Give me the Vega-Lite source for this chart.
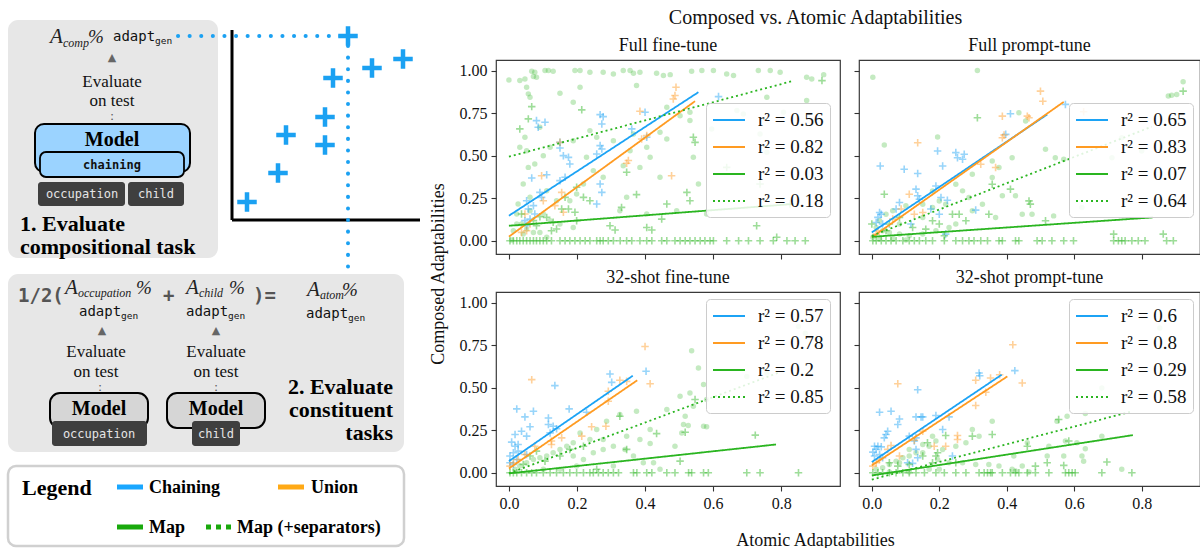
{
"$schema":"https://vega.github.io/schema/vega-lite/v6.json",
"padding":{"top":8,"left":0,"right":0,"bottom":0},
"background":"white",
"config":{
 "view":{"stroke":"#3a3a3a","strokeWidth":1.2},
 "font":"Liberation Serif",
 "axis":{"domain":false,"grid":false,"tickSize":5,"tickColor":"#333","tickWidth":1.1,"labelFont":"Liberation Serif","labelFontSize":16,"labelColor":"#111","labelPadding":4},
 "title":{"font":"Liberation Serif","fontWeight":"normal","color":"#111","fontSize":18,"offset":5},
 "legend":{"orient":"none","title":null,"symbolType":"M-1.6,0L1.6,0","symbolSize":400,"symbolOffset":6,"symbolStrokeWidth":2,"labelFont":"Liberation Serif","labelFontSize":19,"labelColor":"#111","labelOffset":18,"padding":6,"rowPadding":6,"fillColor":"rgba(255,255,255,0.85)","strokeColor":"#cccccc","cornerRadius":4}
},
"spacing":8,
"resolve":{"scale":{"x":"independent","y":"independent","color":"independent","strokeDash":"independent"}},
"hconcat":[
{
 "width":420,"height":488,"view":{"stroke":null},
 "layer":[
  {"data":{"name":"dr"},"transform":[{"filter":"datum.k=='panel'"}],"mark":{"type":"rect","fill":"#e7e7e7","cornerRadius":10},
   "encoding":{"x":{"field":"x","type":"quantitative","scale":{"domain":[0,420],"nice":false,"zero":false},"axis":null},"x2":{"field":"x2"},"y":{"field":"y","type":"quantitative","scale":{"domain":[60,548],"nice":false,"zero":false,"reverse":true},"axis":null},"y2":{"field":"y2"}}},
  {"data":{"name":"dr"},"transform":[{"filter":"datum.k=='lbox'"}],"mark":{"type":"rect","fill":"white","stroke":"#d0d0d0","strokeWidth":2.5,"cornerRadius":8},
   "encoding":{"x":{"field":"x","type":"quantitative","axis":null},"x2":{"field":"x2"},"y":{"field":"y","type":"quantitative","axis":null},"y2":{"field":"y2"}}},
  {"data":{"name":"dr"},"transform":[{"filter":"datum.k=='bm'"}],"mark":{"type":"rect","fill":"#9bd3ff","stroke":"black","strokeWidth":2,"cornerRadius":9},
   "encoding":{"x":{"field":"x","type":"quantitative","axis":null},"x2":{"field":"x2"},"y":{"field":"y","type":"quantitative","axis":null},"y2":{"field":"y2"}}},
  {"data":{"name":"dr"},"transform":[{"filter":"datum.k=='bc'"}],"mark":{"type":"rect","fill":"#9bd3ff","stroke":"black","strokeWidth":1.8,"cornerRadius":6},
   "encoding":{"x":{"field":"x","type":"quantitative","axis":null},"x2":{"field":"x2"},"y":{"field":"y","type":"quantitative","axis":null},"y2":{"field":"y2"}}},
  {"data":{"name":"dr"},"transform":[{"filter":"datum.k=='gm'"}],"mark":{"type":"rect","fill":"#d6d6d6","stroke":"black","strokeWidth":2,"cornerRadius":10},
   "encoding":{"x":{"field":"x","type":"quantitative","axis":null},"x2":{"field":"x2"},"y":{"field":"y","type":"quantitative","axis":null},"y2":{"field":"y2"}}},
  {"data":{"name":"dr"},"transform":[{"filter":"datum.k=='tag'"}],"mark":{"type":"rect","fill":"#3f3f3f","cornerRadius":3},
   "encoding":{"x":{"field":"x","type":"quantitative","axis":null},"x2":{"field":"x2"},"y":{"field":"y","type":"quantitative","axis":null},"y2":{"field":"y2"}}},
  {"data":{"name":"dl"},"transform":[{"filter":"datum.k=='ax'"}],"mark":{"type":"rule","color":"black","strokeWidth":3},
   "encoding":{"x":{"field":"x","type":"quantitative","axis":null},"x2":{"field":"x2"},"y":{"field":"y","type":"quantitative","axis":null},"y2":{"field":"y2"}}},
  {"data":{"name":"dl"},"transform":[{"filter":"datum.k=='bd'"}],"mark":{"type":"rule","color":"#1ba1f2","strokeWidth":4,"strokeDash":[0.1,11.5],"strokeCap":"round"},
   "encoding":{"x":{"field":"x","type":"quantitative","axis":null},"x2":{"field":"x2"},"y":{"field":"y","type":"quantitative","axis":null},"y2":{"field":"y2"}}},
  {"data":{"name":"dl"},"transform":[{"filter":"datum.k=='lb'"}],"mark":{"type":"rule","color":"#1aa7ff","strokeWidth":5},
   "encoding":{"x":{"field":"x","type":"quantitative","axis":null},"x2":{"field":"x2"},"y":{"field":"y","type":"quantitative","axis":null},"y2":{"field":"y2"}}},
  {"data":{"name":"dl"},"transform":[{"filter":"datum.k=='lo'"}],"mark":{"type":"rule","color":"#ffa915","strokeWidth":5},
   "encoding":{"x":{"field":"x","type":"quantitative","axis":null},"x2":{"field":"x2"},"y":{"field":"y","type":"quantitative","axis":null},"y2":{"field":"y2"}}},
  {"data":{"name":"dl"},"transform":[{"filter":"datum.k=='lg'"}],"mark":{"type":"rule","color":"#19a90c","strokeWidth":5},
   "encoding":{"x":{"field":"x","type":"quantitative","axis":null},"x2":{"field":"x2"},"y":{"field":"y","type":"quantitative","axis":null},"y2":{"field":"y2"}}},
  {"data":{"name":"dl"},"transform":[{"filter":"datum.k=='ld'"}],"mark":{"type":"rule","color":"#19a90c","strokeWidth":5,"strokeDash":[5,5]},
   "encoding":{"x":{"field":"x","type":"quantitative","axis":null},"x2":{"field":"x2"},"y":{"field":"y","type":"quantitative","axis":null},"y2":{"field":"y2"}}},
  {"data":{"name":"dp"},"mark":{"type":"point","shape":"M-1,0L1,0M0,-1L0,1","filled":false,"size":380,"strokeWidth":4.5,"color":"#1ba1f2","opacity":1},
   "encoding":{"x":{"field":"x","type":"quantitative","axis":null},"y":{"field":"y","type":"quantitative","axis":null}}},
  {"data":{"name":"dt"},"transform":[{"filter":"datum.k=='ev'"}],"mark":{"type":"text","font":"Liberation Serif","fontSize":17,"align":"center","baseline":"middle","color":"#111"},
   "encoding":{"x":{"field":"x","type":"quantitative","axis":null},"y":{"field":"y","type":"quantitative","axis":null},"text":{"field":"t"}}},
  {"data":{"name":"dt"},"transform":[{"filter":"datum.k=='model'"}],"mark":{"type":"text","font":"Liberation Serif","fontSize":20,"fontWeight":"bold","align":"center","baseline":"middle","color":"#000"},
   "encoding":{"x":{"field":"x","type":"quantitative","axis":null},"y":{"field":"y","type":"quantitative","axis":null},"text":{"field":"t"}}},
  {"data":{"name":"dt"},"transform":[{"filter":"datum.k=='chain'"}],"mark":{"type":"text","font":"DejaVu Sans Mono","fontSize":12,"fontWeight":"bold","align":"center","baseline":"middle","color":"#111"},
   "encoding":{"x":{"field":"x","type":"quantitative","axis":null},"y":{"field":"y","type":"quantitative","axis":null},"text":{"field":"t"}}},
  {"data":{"name":"dt"},"transform":[{"filter":"datum.k=='tag'"}],"mark":{"type":"text","font":"DejaVu Sans Mono","fontSize":12,"align":"center","baseline":"middle","color":"#e6e6e6"},
   "encoding":{"x":{"field":"x","type":"quantitative","axis":null},"y":{"field":"y","type":"quantitative","axis":null},"text":{"field":"t"}}},
  {"data":{"name":"dt"},"transform":[{"filter":"datum.k=='hl'"}],"mark":{"type":"text","font":"Liberation Serif","fontSize":22,"fontWeight":"bold","align":"left","baseline":"middle","color":"#000"},
   "encoding":{"x":{"field":"x","type":"quantitative","axis":null},"y":{"field":"y","type":"quantitative","axis":null},"text":{"field":"t"}}},
  {"data":{"name":"dt"},"transform":[{"filter":"datum.k=='hr'"}],"mark":{"type":"text","font":"Liberation Serif","fontSize":22,"fontWeight":"bold","align":"right","baseline":"middle","color":"#000"},
   "encoding":{"x":{"field":"x","type":"quantitative","axis":null},"y":{"field":"y","type":"quantitative","axis":null},"text":{"field":"t"}}},
  {"data":{"name":"dt"},"transform":[{"filter":"datum.k=='leg'"}],"mark":{"type":"text","font":"Liberation Serif","fontSize":18,"fontWeight":"bold","align":"left","baseline":"middle","color":"#000"},
   "encoding":{"x":{"field":"x","type":"quantitative","axis":null},"y":{"field":"y","type":"quantitative","axis":null},"text":{"field":"t"}}},
  {"data":{"name":"dt"},"transform":[{"filter":"datum.k=='A'"}],"mark":{"type":"text","font":"Liberation Serif","fontSize":21,"fontStyle":"italic","align":"left","baseline":"middle","color":"#222"},
   "encoding":{"x":{"field":"x","type":"quantitative","axis":null},"y":{"field":"y","type":"quantitative","axis":null},"text":{"field":"t"}}},
  {"data":{"name":"dt"},"transform":[{"filter":"datum.k=='sub'"}],"mark":{"type":"text","font":"Liberation Serif","fontSize":12,"fontStyle":"italic","align":"left","baseline":"middle","color":"#222"},
   "encoding":{"x":{"field":"x","type":"quantitative","axis":null},"y":{"field":"y","type":"quantitative","axis":null},"text":{"field":"t"}}},
  {"data":{"name":"dt"},"transform":[{"filter":"datum.k=='pct'"}],"mark":{"type":"text","font":"Liberation Serif","fontSize":19,"fontStyle":"italic","align":"left","baseline":"middle","color":"#222"},
   "encoding":{"x":{"field":"x","type":"quantitative","axis":null},"y":{"field":"y","type":"quantitative","axis":null},"text":{"field":"t"}}},
  {"data":{"name":"dt"},"transform":[{"filter":"datum.k=='adapt'"}],"mark":{"type":"text","font":"DejaVu Sans Mono","fontSize":14,"align":"left","baseline":"middle","color":"#111"},
   "encoding":{"x":{"field":"x","type":"quantitative","axis":null},"y":{"field":"y","type":"quantitative","axis":null},"text":{"field":"t"}}},
  {"data":{"name":"dt"},"transform":[{"filter":"datum.k=='gen'"}],"mark":{"type":"text","font":"DejaVu Sans Mono","fontSize":9.5,"align":"left","baseline":"middle","color":"#111"},
   "encoding":{"x":{"field":"x","type":"quantitative","axis":null},"y":{"field":"y","type":"quantitative","axis":null},"text":{"field":"t"}}},
  {"data":{"name":"dt"},"transform":[{"filter":"datum.k=='gray'"}],"mark":{"type":"text","font":"DejaVu Sans Mono","fontSize":19,"fontWeight":"bold","align":"left","baseline":"middle","color":"#555"},
   "encoding":{"x":{"field":"x","type":"quantitative","axis":null},"y":{"field":"y","type":"quantitative","axis":null},"text":{"field":"t"}}},
  {"data":{"name":"dt"},"transform":[{"filter":"datum.k=='arrow'"}],"mark":{"type":"text","font":"DejaVu Sans","fontSize":11,"align":"center","baseline":"middle","color":"#666"},
   "encoding":{"x":{"field":"x","type":"quantitative","axis":null},"y":{"field":"y","type":"quantitative","axis":null},"text":{"field":"t"}}},
  {"data":{"name":"dt"},"transform":[{"filter":"datum.k=='dots'"}],"mark":{"type":"text","font":"Liberation Serif","fontSize":13,"align":"center","baseline":"middle","color":"#555"},
   "encoding":{"x":{"field":"x","type":"quantitative","axis":null},"y":{"field":"y","type":"quantitative","axis":null},"text":{"field":"t"}}}
 ]
},
{
 "title":{"text":"Composed vs. Atomic Adaptabilities","fontSize":20,"anchor":"middle","offset":8},
 "spacing":0,
 "resolve":{"scale":{"x":"independent","y":"independent","color":"independent","strokeDash":"independent"}},
 "vconcat":[{
  "title":{"text":"Atomic Adaptabilities","orient":"bottom","fontSize":18,"anchor":"middle","offset":20},
  "spacing":0,
  "resolve":{"scale":{"x":"independent","y":"independent","color":"independent","strokeDash":"independent"}},
  "vconcat":[{
   "title":{"text":"Composed Adaptabilities","orient":"left","fontSize":18,"anchor":"middle","offset":10},
   "spacing":7,
   "resolve":{"scale":{"x":"independent","y":"independent","color":"independent","strokeDash":"independent"}},
   "vconcat":[
    {"hconcat":[
     {"width":344,"height":194,"title":{"text":"Full fine-tune"},
      "layer":[
       {"data":{"name":"ff"},"transform":[{"filter":"datum.s=='d'"}],"mark":{"type":"point","shape":"circle","filled":true,"size":30,"opacity":0.28,"strokeWidth":0},
        "encoding":{"x":{"field":"x","type":"quantitative","scale":{"domain":[-0.038,0.973],"nice":false,"zero":false},"axis":{"values":[0,0.2,0.4,0.6,0.8],"format":".1f","labels":false,"title":null}},"y":{"field":"y","type":"quantitative","scale":{"domain":[-0.078,1.062],"nice":false,"zero":false},"axis":{"values":[0,0.25,0.5,0.75,1],"format":".2f","title":null}},"fill":{"field":"s","type":"nominal","scale":{"domain":["a","b","c","d"],"range":["#1ca3f5","#ff9b22","#2ab520","#2ab520"]},"legend":null}}},
       {"data":{"name":"ff"},"transform":[{"filter":"datum.s!='d'"}],"mark":{"type":"point","shape":"M-1,0L1,0M0,-1L0,1","filled":false,"size":56,"opacity":0.45,"strokeWidth":1.6},
        "encoding":{"x":{"field":"x","type":"quantitative"},"y":{"field":"y","type":"quantitative"},"stroke":{"field":"s","type":"nominal","scale":{"domain":["a","b","c","d"],"range":["#1ca3f5","#ff9b22","#2ab520","#2ab520"]},"legend":null}}},
       {"data":{"name":"ffl"},"mark":{"type":"line","strokeWidth":1.8},
        "encoding":{"x":{"field":"x","type":"quantitative"},"y":{"field":"y","type":"quantitative"},
         "color":{"field":"s","type":"nominal","scale":{"domain":["a","b","c","d"],"range":["#1ca3f5","#ff9b22","#2ab520","#2ab520"]},"legend":{"legendX":210,"legendY":43,"labelExpr":"datum.value=='a'?'r² = 0.56':datum.value=='b'?'r² = 0.82':datum.value=='c'?'r² = 0.03':'r² = 0.18'"}},
         "strokeDash":{"field":"s","type":"nominal","scale":{"domain":["a","b","c","d"],"range":[[1,0],[1,0],[1,0],[2,3]]},"legend":{"legendX":210,"legendY":43,"labelExpr":"datum.value=='a'?'r² = 0.56':datum.value=='b'?'r² = 0.82':datum.value=='c'?'r² = 0.03':'r² = 0.18'"}}}}
      ]},
     {"width":341,"height":194,"title":{"text":"Full prompt-tune"},
      "layer":[
       {"data":{"name":"fp"},"transform":[{"filter":"datum.s=='d'"}],"mark":{"type":"point","shape":"circle","filled":true,"size":30,"opacity":0.28,"strokeWidth":0},
        "encoding":{"x":{"field":"x","type":"quantitative","scale":{"domain":[-0.038,0.973],"nice":false,"zero":false},"axis":{"values":[0,0.2,0.4,0.6,0.8],"format":".1f","labels":false,"title":null}},"y":{"field":"y","type":"quantitative","scale":{"domain":[-0.078,1.062],"nice":false,"zero":false},"axis":{"values":[0,0.25,0.5,0.75,1],"format":".2f","labels":false,"title":null}},"fill":{"field":"s","type":"nominal","scale":{"domain":["a","b","c","d"],"range":["#1ca3f5","#ff9b22","#2ab520","#2ab520"]},"legend":null}}},
       {"data":{"name":"fp"},"transform":[{"filter":"datum.s!='d'"}],"mark":{"type":"point","shape":"M-1,0L1,0M0,-1L0,1","filled":false,"size":56,"opacity":0.45,"strokeWidth":1.6},
        "encoding":{"x":{"field":"x","type":"quantitative"},"y":{"field":"y","type":"quantitative"},"stroke":{"field":"s","type":"nominal","scale":{"domain":["a","b","c","d"],"range":["#1ca3f5","#ff9b22","#2ab520","#2ab520"]},"legend":null}}},
       {"data":{"name":"fpl"},"mark":{"type":"line","strokeWidth":1.8},
        "encoding":{"x":{"field":"x","type":"quantitative"},"y":{"field":"y","type":"quantitative"},
         "color":{"field":"s","type":"nominal","scale":{"domain":["a","b","c","d"],"range":["#1ca3f5","#ff9b22","#2ab520","#2ab520"]},"legend":{"legendX":210,"legendY":43,"labelExpr":"datum.value=='a'?'r² = 0.65':datum.value=='b'?'r² = 0.83':datum.value=='c'?'r² = 0.07':'r² = 0.64'"}},
         "strokeDash":{"field":"s","type":"nominal","scale":{"domain":["a","b","c","d"],"range":[[1,0],[1,0],[1,0],[2,3]]},"legend":{"legendX":210,"legendY":43,"labelExpr":"datum.value=='a'?'r² = 0.65':datum.value=='b'?'r² = 0.83':datum.value=='c'?'r² = 0.07':'r² = 0.64'"}}}}
      ]}
    ],"spacing":11,"resolve":{"scale":{"x":"independent","y":"independent","color":"independent","strokeDash":"independent"}}},
    {"hconcat":[
     {"width":344,"height":194,"title":{"text":"32-shot fine-tune"},
      "layer":[
       {"data":{"name":"sf"},"transform":[{"filter":"datum.s=='d'"}],"mark":{"type":"point","shape":"circle","filled":true,"size":30,"opacity":0.28,"strokeWidth":0},
        "encoding":{"x":{"field":"x","type":"quantitative","scale":{"domain":[-0.038,0.973],"nice":false,"zero":false},"axis":{"values":[0,0.2,0.4,0.6,0.8],"format":".1f","title":null}},"y":{"field":"y","type":"quantitative","scale":{"domain":[-0.078,1.062],"nice":false,"zero":false},"axis":{"values":[0,0.25,0.5,0.75,1],"format":".2f","title":null}},"fill":{"field":"s","type":"nominal","scale":{"domain":["a","b","c","d"],"range":["#1ca3f5","#ff9b22","#2ab520","#2ab520"]},"legend":null}}},
       {"data":{"name":"sf"},"transform":[{"filter":"datum.s!='d'"}],"mark":{"type":"point","shape":"M-1,0L1,0M0,-1L0,1","filled":false,"size":56,"opacity":0.45,"strokeWidth":1.6},
        "encoding":{"x":{"field":"x","type":"quantitative"},"y":{"field":"y","type":"quantitative"},"stroke":{"field":"s","type":"nominal","scale":{"domain":["a","b","c","d"],"range":["#1ca3f5","#ff9b22","#2ab520","#2ab520"]},"legend":null}}},
       {"data":{"name":"sfl"},"mark":{"type":"line","strokeWidth":1.8},
        "encoding":{"x":{"field":"x","type":"quantitative"},"y":{"field":"y","type":"quantitative"},
         "color":{"field":"s","type":"nominal","scale":{"domain":["a","b","c","d"],"range":["#1ca3f5","#ff9b22","#2ab520","#2ab520"]},"legend":{"legendX":210,"legendY":7,"labelExpr":"datum.value=='a'?'r² = 0.57':datum.value=='b'?'r² = 0.78':datum.value=='c'?'r² = 0.2':'r² = 0.85'"}},
         "strokeDash":{"field":"s","type":"nominal","scale":{"domain":["a","b","c","d"],"range":[[1,0],[1,0],[1,0],[2,3]]},"legend":{"legendX":210,"legendY":7,"labelExpr":"datum.value=='a'?'r² = 0.57':datum.value=='b'?'r² = 0.78':datum.value=='c'?'r² = 0.2':'r² = 0.85'"}}}}
      ]},
     {"width":341,"height":194,"title":{"text":"32-shot prompt-tune"},
      "layer":[
       {"data":{"name":"sp"},"transform":[{"filter":"datum.s=='d'"}],"mark":{"type":"point","shape":"circle","filled":true,"size":30,"opacity":0.28,"strokeWidth":0},
        "encoding":{"x":{"field":"x","type":"quantitative","scale":{"domain":[-0.038,0.973],"nice":false,"zero":false},"axis":{"values":[0,0.2,0.4,0.6,0.8],"format":".1f","title":null}},"y":{"field":"y","type":"quantitative","scale":{"domain":[-0.078,1.062],"nice":false,"zero":false},"axis":{"values":[0,0.25,0.5,0.75,1],"format":".2f","labels":false,"title":null}},"fill":{"field":"s","type":"nominal","scale":{"domain":["a","b","c","d"],"range":["#1ca3f5","#ff9b22","#2ab520","#2ab520"]},"legend":null}}},
       {"data":{"name":"sp"},"transform":[{"filter":"datum.s!='d'"}],"mark":{"type":"point","shape":"M-1,0L1,0M0,-1L0,1","filled":false,"size":56,"opacity":0.45,"strokeWidth":1.6},
        "encoding":{"x":{"field":"x","type":"quantitative"},"y":{"field":"y","type":"quantitative"},"stroke":{"field":"s","type":"nominal","scale":{"domain":["a","b","c","d"],"range":["#1ca3f5","#ff9b22","#2ab520","#2ab520"]},"legend":null}}},
       {"data":{"name":"spl"},"mark":{"type":"line","strokeWidth":1.8},
        "encoding":{"x":{"field":"x","type":"quantitative"},"y":{"field":"y","type":"quantitative"},
         "color":{"field":"s","type":"nominal","scale":{"domain":["a","b","c","d"],"range":["#1ca3f5","#ff9b22","#2ab520","#2ab520"]},"legend":{"legendX":210,"legendY":7,"labelExpr":"datum.value=='a'?'r² = 0.6':datum.value=='b'?'r² = 0.8':datum.value=='c'?'r² = 0.29':'r² = 0.58'"}},
         "strokeDash":{"field":"s","type":"nominal","scale":{"domain":["a","b","c","d"],"range":[[1,0],[1,0],[1,0],[2,3]]},"legend":{"legendX":210,"legendY":7,"labelExpr":"datum.value=='a'?'r² = 0.6':datum.value=='b'?'r² = 0.8':datum.value=='c'?'r² = 0.29':'r² = 0.58'"}}}}
      ]}
    ],"spacing":11,"resolve":{"scale":{"x":"independent","y":"independent","color":"independent","strokeDash":"independent"}}}
   ]
  }]
 }]
}
],
"datasets":{
"dr":[{"k":"panel","x":8,"x2":218,"y":20,"y2":258},{"k":"panel","x":8,"x2":404,"y":274,"y2":452},{"k":"lbox","x":8,"x2":404,"y":466,"y2":546},{"k":"bm","x":35,"x2":190,"y":124,"y2":172},{"k":"bc","x":40,"x2":184,"y":152,"y2":177},{"k":"gm","x":50,"x2":148,"y":393,"y2":428},{"k":"gm","x":167,"x2":265,"y":393,"y2":428},{"k":"tag","x":38,"x2":125,"y":182,"y2":206},{"k":"tag","x":128,"x2":184,"y":182,"y2":206},{"k":"tag","x":52,"x2":147,"y":421,"y2":446},{"k":"tag","x":192,"x2":240,"y":421,"y2":446}],
"dl":[{"k":"ax","x":232,"y":30,"x2":232,"y2":220},{"k":"ax","x":232,"y":220,"x2":420,"y2":220},{"k":"bd","x":178,"y":36,"x2":342,"y2":36},{"k":"bd","x":348,"y":46,"x2":348,"y2":272},{"k":"lb","x":117,"y":487,"x2":143,"y2":487},{"k":"lo","x":278,"y":487,"x2":304,"y2":487},{"k":"lg","x":117,"y":527,"x2":143,"y2":527},{"k":"ld","x":206,"y":527,"x2":233,"y2":527}],
"dp":[{"x":247,"y":202},{"x":278,"y":173},{"x":286,"y":135},{"x":325,"y":117},{"x":325,"y":145},{"x":333,"y":78},{"x":348,"y":36},{"x":372,"y":68},{"x":403,"y":59}],
"dt":[{"k":"ev","x":112,"y":82,"t":"Evaluate"},{"k":"ev","x":112,"y":101,"t":"on test"},{"k":"ev","x":96,"y":352,"t":"Evaluate"},{"k":"ev","x":96,"y":372,"t":"on test"},{"k":"ev","x":216,"y":352,"t":"Evaluate"},{"k":"ev","x":216,"y":372,"t":"on test"},
{"k":"model","x":112,"y":140,"t":"Model"},{"k":"model","x":99,"y":409,"t":"Model"},{"k":"model","x":216,"y":409,"t":"Model"},
{"k":"chain","x":112,"y":165,"t":"chaining"},
{"k":"tag","x":82,"y":194,"t":"occupation"},{"k":"tag","x":156,"y":194,"t":"child"},{"k":"tag","x":99,"y":434,"t":"occupation"},{"k":"tag","x":216,"y":434,"t":"child"},
{"k":"hl","x":20,"y":224,"t":"1. Evaluate"},{"k":"hl","x":20,"y":247,"t":"compositional task"},{"k":"hl","x":22,"y":488,"t":"Legend"},
{"k":"hr","x":393,"y":387,"t":"2. Evaluate"},{"k":"hr","x":393,"y":410,"t":"constituent"},{"k":"hr","x":393,"y":433,"t":"tasks"},
{"k":"leg","x":149,"y":488,"t":"Chaining"},{"k":"leg","x":311,"y":488,"t":"Union"},{"k":"leg","x":149,"y":528,"t":"Map"},{"k":"leg","x":237,"y":528,"t":"Map (+separators)"},
{"k":"A","x":50,"y":37,"t":"A"},{"k":"A","x":65,"y":288,"t":"A"},{"k":"A","x":186,"y":288,"t":"A"},{"k":"A","x":307,"y":290,"t":"A"},
{"k":"sub","x":63,"y":43,"t":"comp"},{"k":"sub","x":78,"y":293,"t":"occupation"},{"k":"sub","x":199,"y":293,"t":"child"},{"k":"sub","x":320,"y":295,"t":"atom"},
{"k":"pct","x":88,"y":37,"t":"%"},{"k":"pct","x":136,"y":288,"t":"%"},{"k":"pct","x":229,"y":288,"t":"%"},{"k":"pct","x":342,"y":290,"t":"%"},
{"k":"adapt","x":113,"y":37,"t":"adapt"},{"k":"adapt","x":79,"y":312,"t":"adapt"},{"k":"adapt","x":186,"y":312,"t":"adapt"},{"k":"adapt","x":306,"y":314,"t":"adapt"},
{"k":"gen","x":155,"y":41,"t":"gen"},{"k":"gen","x":121,"y":316,"t":"gen"},{"k":"gen","x":228,"y":316,"t":"gen"},{"k":"gen","x":348,"y":318,"t":"gen"},
{"k":"gray","x":18,"y":296,"t":"1/2("},{"k":"gray","x":163,"y":296,"t":"+"},{"k":"gray","x":253,"y":296,"t":")="},
{"k":"arrow","x":112,"y":58,"t":"▲"},{"k":"arrow","x":102,"y":331,"t":"▲"},{"k":"arrow","x":216,"y":331,"t":"▲"},
{"k":"dots","x":112,"y":116,"t":":"},{"k":"dots","x":100,"y":387,"t":":"},{"k":"dots","x":216,"y":387,"t":":"}],
"ffl":[{"s":"a","x":0,"y":0.147},{"s":"a","x":0.557,"y":0.873},{"s":"b","x":0,"y":0.024},{"s":"b","x":0.547,"y":0.82},{"s":"c","x":0,"y":0.088},{"s":"c","x":0.83,"y":0.215},{"s":"d","x":0,"y":0.494},{"s":"d","x":0.831,"y":0.937}],
"fpl":[{"s":"a","x":0,"y":0.049},{"s":"a","x":0.52,"y":0.742},{"s":"b","x":0,"y":0.02},{"s":"b","x":0.569,"y":0.816},{"s":"c","x":0,"y":0.023},{"s":"c","x":0.833,"y":0.137},{"s":"d","x":0,"y":0.029},{"s":"d","x":0.83,"y":0.67}],
"sfl":[{"s":"a","x":0,"y":0.068},{"s":"a","x":0.364,"y":0.57},{"s":"b","x":0,"y":0.025},{"s":"b","x":0.377,"y":0.543},{"s":"c","x":0,"y":-0.004},{"s":"c","x":0.785,"y":0.166},{"s":"d","x":0,"y":-0.004},{"s":"d","x":0.79,"y":0.586}],
"spl":[{"s":"a","x":0,"y":0.063},{"s":"a","x":0.385,"y":0.576},{"s":"b","x":0,"y":0.043},{"s":"b","x":0.402,"y":0.566},{"s":"c","x":0,"y":-0.016},{"s":"c","x":0.774,"y":0.221},{"s":"d","x":0,"y":-0.04},{"s":"d","x":0.765,"y":0.357}],
"ff":[
{"s":"a","x":0.081,"y":0.706},{"s":"a","x":0.106,"y":0.696},{"s":"a","x":0.086,"y":0.667},{"s":"a","x":0.15,"y":0.578},{"s":"a","x":0.15,"y":0.545},{"s":"a","x":0.16,"y":0.5},{"s":"a","x":0.175,"y":0.49},{"s":"a","x":0.179,"y":0.451},{"s":"a","x":0.111,"y":0.388},{"s":"a","x":0.067,"y":0.369},{"s":"a","x":0.052,"y":0.235},{"s":"a","x":0.072,"y":0.206},{"s":"a","x":0.057,"y":0.186},{"s":"a","x":0.076,"y":0.157},{"s":"a","x":0.062,"y":0.127},{"s":"a","x":0.091,"y":0.284},{"s":"a","x":0.096,"y":0.255},{"s":"a","x":0.165,"y":0.373},{"s":"a","x":0.15,"y":0.353},{"s":"a","x":0.268,"y":0.741},{"s":"a","x":0.277,"y":0.729},{"s":"a","x":0.273,"y":0.686},{"s":"a","x":0.4,"y":0.755},{"s":"a","x":0.405,"y":0.608},{"s":"a","x":0.268,"y":0.559},{"s":"a","x":0.273,"y":0.539},{"s":"a","x":0.258,"y":0.51},{"s":"a","x":0.268,"y":0.333},{"s":"a","x":0.273,"y":0.284},{"s":"a","x":0.258,"y":0.216},{"s":"a","x":0.361,"y":0.657},{"s":"a","x":0.616,"y":0.847},{"s":"a","x":0.047,"y":0.118},{"s":"a","x":0.052,"y":0.088},
{"s":"b","x":0.491,"y":0.902},{"s":"b","x":0.488,"y":0.853},{"s":"b","x":0.483,"y":0.833},{"s":"b","x":0.385,"y":0.761},{"s":"b","x":0.405,"y":0.618},{"s":"b","x":0.351,"y":0.471},{"s":"b","x":0.346,"y":0.455},{"s":"b","x":0.478,"y":0.382},{"s":"b","x":0.096,"y":0.382},{"s":"b","x":0.15,"y":0.578},{"s":"b","x":0.155,"y":0.284},{"s":"b","x":0.135,"y":0.206},{"s":"b","x":0.16,"y":0.167},{"s":"b","x":0.101,"y":0.235},{"s":"b","x":0.047,"y":0.157},{"s":"b","x":0.052,"y":0.059},{"s":"b","x":0.062,"y":0.098},{"s":"b","x":0.037,"y":0.049},{"s":"b","x":0.39,"y":0.598},
{"s":"c","x":0.067,"y":0.788},{"s":"c","x":0.057,"y":0.716},{"s":"c","x":0.032,"y":0.657},{"s":"c","x":0.214,"y":0.769},{"s":"c","x":0.542,"y":0.608},{"s":"c","x":0.547,"y":0.578},{"s":"c","x":0.346,"y":0.402},{"s":"c","x":0.375,"y":0.271},{"s":"c","x":0.331,"y":0.196},{"s":"c","x":0.523,"y":0.284},{"s":"c","x":0.464,"y":0.216},{"s":"c","x":0.449,"y":0.127},{"s":"c","x":0.532,"y":0.235},{"s":"c","x":0.405,"y":0.078},{"s":"c","x":0.42,"y":0.063},{"s":"c","x":0.297,"y":0.088},{"s":"c","x":0.312,"y":0.063},{"s":"c","x":0.219,"y":0.255},{"s":"c","x":0.238,"y":0.235},{"s":"c","x":0.194,"y":0.167},{"s":"c","x":0.199,"y":0.118},{"s":"c","x":0.175,"y":0.186},{"s":"c","x":0.13,"y":0.108},{"s":"c","x":0.14,"y":0.069},{"s":"c","x":0.111,"y":0.137},{"s":"c","x":0.091,"y":0.141},{"s":"c","x":0.072,"y":0.118},{"s":"c","x":0.037,"y":0.157},{"s":"c","x":0.081,"y":0.088},{"s":"c","x":0.125,"y":0.059},{"s":"c","x":0.728,"y":0.088},{"s":"c","x":0.787,"y":0.02},{"s":"c","x":0.738,"y":0.333},{"s":"c","x":0.826,"y":0.216},{"s":"c","x":0.92,"y":0.941},{"s":"c","x":0.64,"y":0.431},{"s":"c","x":0.199,"y":0.314},{"s":"c","x":0.165,"y":0.255},{"s":"c","x":0.155,"y":0.186},
{"s":"c","x":0.003,"y":0},{"s":"c","x":0.013,"y":0},{"s":"c","x":0.023,"y":0},{"s":"c","x":0.032,"y":0},{"s":"c","x":0.042,"y":0},{"s":"c","x":0.052,"y":0},{"s":"c","x":0.062,"y":0},{"s":"c","x":0.072,"y":0},{"s":"c","x":0.081,"y":0},{"s":"c","x":0.091,"y":0},{"s":"c","x":0.101,"y":0},{"s":"c","x":0.111,"y":0},{"s":"c","x":0.125,"y":0},{"s":"c","x":0.15,"y":0},{"s":"c","x":0.165,"y":0},{"s":"c","x":0.179,"y":0},{"s":"c","x":0.194,"y":0},{"s":"c","x":0.209,"y":0},{"s":"c","x":0.224,"y":0},{"s":"c","x":0.238,"y":0},{"s":"c","x":0.258,"y":0},{"s":"c","x":0.268,"y":0},{"s":"c","x":0.277,"y":0},{"s":"c","x":0.292,"y":0},{"s":"c","x":0.307,"y":0},{"s":"c","x":0.327,"y":0},{"s":"c","x":0.346,"y":0},{"s":"c","x":0.361,"y":0},{"s":"c","x":0.385,"y":0},{"s":"c","x":0.405,"y":0},{"s":"c","x":0.42,"y":0},{"s":"c","x":0.449,"y":0},{"s":"c","x":0.464,"y":0},{"s":"c","x":0.488,"y":0},{"s":"c","x":0.503,"y":0},{"s":"c","x":0.518,"y":0},{"s":"c","x":0.532,"y":0},{"s":"c","x":0.547,"y":0},{"s":"c","x":0.562,"y":0},{"s":"c","x":0.576,"y":0},{"s":"c","x":0.591,"y":0},{"s":"c","x":0.601,"y":0},{"s":"c","x":0.64,"y":0},{"s":"c","x":0.675,"y":0},{"s":"c","x":0.704,"y":0},{"s":"c","x":0.738,"y":0},{"s":"c","x":0.777,"y":0},{"s":"c","x":0.817,"y":0},{"s":"c","x":0.841,"y":0},{"s":"c","x":0.871,"y":0},
{"s":"d","x":0,"y":0.945},{"s":"d","x":0.032,"y":0.941},{"s":"d","x":0.047,"y":0.951},{"s":"d","x":0.067,"y":0.996},{"s":"d","x":0.076,"y":0.99},{"s":"d","x":0.072,"y":0.965},{"s":"d","x":0.081,"y":0.961},{"s":"d","x":0.106,"y":1},{"s":"d","x":0.116,"y":1},{"s":"d","x":0.13,"y":0.996},{"s":"d","x":0.194,"y":1},{"s":"d","x":0.209,"y":1},{"s":"d","x":0.238,"y":0.99},{"s":"d","x":0.277,"y":0.99},{"s":"d","x":0.307,"y":0.98},{"s":"d","x":0.336,"y":1},{"s":"d","x":0.356,"y":1},{"s":"d","x":0.366,"y":0.984},{"s":"d","x":0.385,"y":0.99},{"s":"d","x":0.434,"y":0.984},{"s":"d","x":0.454,"y":0.971},{"s":"d","x":0.474,"y":0.976},{"s":"d","x":0.537,"y":0.996},{"s":"d","x":0.567,"y":1},{"s":"d","x":0.601,"y":1},{"s":"d","x":0.64,"y":0.98},{"s":"d","x":0.66,"y":0.971},{"s":"d","x":0.733,"y":1},{"s":"d","x":0.768,"y":1},{"s":"d","x":0.797,"y":0.99},{"s":"d","x":0.875,"y":0.961},{"s":"d","x":0.89,"y":0.951},{"s":"d","x":0.925,"y":0.976},{"s":"d","x":0.209,"y":0.902},{"s":"d","x":0.15,"y":0.867},{"s":"d","x":0.375,"y":0.912},{"s":"d","x":0.052,"y":0.902},{"s":"d","x":0.057,"y":0.863},{"s":"d","x":0.062,"y":0.843},{"s":"d","x":0.189,"y":0.814},{"s":"d","x":0.464,"y":0.784},{"s":"d","x":0.503,"y":0.735},{"s":"d","x":0.532,"y":0.706},{"s":"d","x":0.596,"y":0.657},{"s":"d","x":0.67,"y":0.765},{"s":"d","x":0.689,"y":0.745},{"s":"d","x":0.758,"y":0.843},{"s":"d","x":0.807,"y":0.755},{"s":"d","x":0.875,"y":0.824},{"s":"d","x":0.738,"y":0.627},{"s":"d","x":0.758,"y":0.52},{"s":"d","x":0.532,"y":0.755},
{"s":"d","x":0.047,"y":0.608},{"s":"d","x":0.032,"y":0.549},{"s":"d","x":0.052,"y":0.529},{"s":"d","x":0.091,"y":0.667},{"s":"d","x":0.076,"y":0.451},{"s":"d","x":0.057,"y":0.431},{"s":"d","x":0.101,"y":0.5},{"s":"d","x":0.121,"y":0.549},{"s":"d","x":0.189,"y":0.588},{"s":"d","x":0.238,"y":0.647},{"s":"d","x":0.258,"y":0.608},{"s":"d","x":0.228,"y":0.49},{"s":"d","x":0.307,"y":0.588},{"s":"d","x":0.366,"y":0.627},{"s":"d","x":0.405,"y":0.549},{"s":"d","x":0.444,"y":0.637},{"s":"d","x":0.464,"y":0.598},{"s":"d","x":0.415,"y":0.49},{"s":"d","x":0.356,"y":0.529},{"s":"d","x":0.336,"y":0.441},{"s":"d","x":0.385,"y":0.431},{"s":"d","x":0.277,"y":0.373},{"s":"d","x":0.248,"y":0.412},{"s":"d","x":0.219,"y":0.333},{"s":"d","x":0.199,"y":0.275},{"s":"d","x":0.179,"y":0.235},{"s":"d","x":0.14,"y":0.235},{"s":"d","x":0.111,"y":0.294},{"s":"d","x":0.062,"y":0.255},{"s":"d","x":0.042,"y":0.333},{"s":"d","x":0.027,"y":0.216},{"s":"d","x":0.023,"y":0.157},{"s":"d","x":0.037,"y":0.098},{"s":"d","x":0.052,"y":0.069},{"s":"d","x":0.072,"y":0.049},{"s":"d","x":0.042,"y":0.039},{"s":"d","x":0.013,"y":0.059},{"s":"d","x":0.023,"y":0.098},{"s":"d","x":0.062,"y":0.176},{"s":"d","x":0.101,"y":0.157},{"s":"d","x":0.121,"y":0.118},{"s":"d","x":0.15,"y":0.098},{"s":"d","x":0.189,"y":0.078},{"s":"d","x":0.091,"y":0.049},{"s":"d","x":0.111,"y":0.02},{"s":"d","x":0.008,"y":0.004},{"s":"d","x":0.326,"y":0.176},{"s":"d","x":0.346,"y":0.255},{"s":"d","x":0.405,"y":0.157},{"s":"d","x":0.493,"y":0.176},{"s":"d","x":0.557,"y":0.333},{"s":"d","x":0.581,"y":0.157},{"s":"d","x":0.444,"y":0.373},{"s":"d","x":0.542,"y":0.49}
],
"fp":[
{"s":"a","x":0.025,"y":0.439},{"s":"a","x":0.096,"y":0.42},{"s":"a","x":0.136,"y":0.395},{"s":"a","x":0.21,"y":0.439},{"s":"a","x":0.195,"y":0.527},{"s":"a","x":0.249,"y":0.518},{"s":"a","x":0.254,"y":0.488},{"s":"a","x":0.274,"y":0.508},{"s":"a","x":0.269,"y":0.479},{"s":"a","x":0.19,"y":0.322},{"s":"a","x":0.131,"y":0.303},{"s":"a","x":0.082,"y":0.225},{"s":"a","x":0.136,"y":0.264},{"s":"a","x":0.141,"y":0.244},{"s":"a","x":0.205,"y":0.254},{"s":"a","x":0.224,"y":0.238},{"s":"a","x":0.308,"y":0.18},{"s":"a","x":0.023,"y":0.166},{"s":"a","x":0.018,"y":0.137},{"s":"a","x":0.028,"y":0.156},{"s":"a","x":0.013,"y":0.107},{"s":"a","x":0.032,"y":0.098},{"s":"a","x":0.116,"y":0.098},{"s":"a","x":0.175,"y":0.186},{"s":"a","x":0.411,"y":0.746},{"s":"a","x":0.397,"y":0.625},{"s":"a","x":0.574,"y":0.801},{"s":"a","x":0.219,"y":0.039},{"s":"a","x":0.2,"y":0.156},{"s":"a","x":0.072,"y":0.186},
{"s":"b","x":0.5,"y":0.879},{"s":"b","x":0.507,"y":0.82},{"s":"b","x":0.387,"y":0.732},{"s":"b","x":0.461,"y":0.732},{"s":"b","x":0.466,"y":0.723},{"s":"b","x":0.387,"y":0.605},{"s":"b","x":0.392,"y":0.621},{"s":"b","x":0.323,"y":0.449},{"s":"b","x":0.367,"y":0.43},{"s":"b","x":0.136,"y":0.576},{"s":"b","x":0.111,"y":0.273},{"s":"b","x":0.087,"y":0.186},{"s":"b","x":0.151,"y":0.166},{"s":"b","x":0.126,"y":0.156},{"s":"b","x":0.062,"y":0.127},{"s":"b","x":0.013,"y":0.039},{"s":"b","x":0.018,"y":0.059},{"s":"b","x":0.628,"y":0.758},
{"s":"c","x":0.313,"y":0.723},{"s":"c","x":0.037,"y":0.273},{"s":"c","x":0,"y":0.098},{"s":"c","x":0.357,"y":0.332},{"s":"c","x":0.411,"y":0.303},{"s":"c","x":0.466,"y":0.234},{"s":"c","x":0.47,"y":0.215},{"s":"c","x":0.515,"y":0.117},{"s":"c","x":0.864,"y":0.039},{"s":"c","x":0.215,"y":0.029},{"s":"c","x":0.2,"y":0.098},{"s":"c","x":0.259,"y":0.156},{"s":"c","x":0.239,"y":0.156},{"s":"c","x":0.082,"y":0.137},{"s":"c","x":0.052,"y":0.098},{"s":"c","x":0.042,"y":0.059},{"s":"c","x":0.121,"y":0.078},{"s":"c","x":0.16,"y":0.068},{"s":"c","x":0.18,"y":0.117},{"s":"c","x":0.923,"y":0.879},{"s":"c","x":0.717,"y":0.039},{"s":"c","x":0.279,"y":0.117},{"s":"c","x":0.347,"y":0.156},
{"s":"c","x":0.003,"y":0},{"s":"c","x":0.013,"y":0},{"s":"c","x":0.028,"y":0},{"s":"c","x":0.042,"y":0},{"s":"c","x":0.057,"y":0},{"s":"c","x":0.072,"y":0},{"s":"c","x":0.092,"y":0},{"s":"c","x":0.111,"y":0},{"s":"c","x":0.126,"y":0},{"s":"c","x":0.141,"y":0},{"s":"c","x":0.16,"y":0},{"s":"c","x":0.18,"y":0},{"s":"c","x":0.215,"y":0},{"s":"c","x":0.249,"y":0},{"s":"c","x":0.269,"y":0},{"s":"c","x":0.288,"y":0},{"s":"c","x":0.303,"y":0},{"s":"c","x":0.323,"y":0},{"s":"c","x":0.343,"y":0},{"s":"c","x":0.377,"y":0},{"s":"c","x":0.387,"y":0},{"s":"c","x":0.426,"y":0},{"s":"c","x":0.436,"y":0},{"s":"c","x":0.49,"y":0},{"s":"c","x":0.505,"y":0},{"s":"c","x":0.534,"y":0},{"s":"c","x":0.569,"y":0},{"s":"c","x":0.598,"y":0},{"s":"c","x":0.717,"y":0},{"s":"c","x":0.731,"y":0},{"s":"c","x":0.741,"y":0},{"s":"c","x":0.751,"y":0},{"s":"c","x":0.771,"y":0},{"s":"c","x":0.79,"y":0},{"s":"c","x":0.81,"y":0},{"s":"c","x":0.874,"y":0},{"s":"c","x":0.894,"y":0},
{"s":"d","x":0.003,"y":0.961},{"s":"d","x":0.313,"y":1},{"s":"d","x":0.037,"y":0.563},{"s":"d","x":0.195,"y":0.609},{"s":"d","x":0.436,"y":0.752},{"s":"d","x":0.456,"y":0.703},{"s":"d","x":0.515,"y":0.537},{"s":"d","x":0.544,"y":0.488},{"s":"d","x":0.416,"y":0.488},{"s":"d","x":0.357,"y":0.469},{"s":"d","x":0.377,"y":0.43},{"s":"d","x":0.298,"y":0.391},{"s":"d","x":0.357,"y":0.371},{"s":"d","x":0.249,"y":0.332},{"s":"d","x":0.269,"y":0.293},{"s":"d","x":0.288,"y":0.254},{"s":"d","x":0.2,"y":0.234},{"s":"d","x":0.219,"y":0.215},{"s":"d","x":0.18,"y":0.195},{"s":"d","x":0.151,"y":0.215},{"s":"d","x":0.101,"y":0.205},{"s":"d","x":0.062,"y":0.176},{"s":"d","x":0.042,"y":0.156},{"s":"d","x":0.023,"y":0.117},{"s":"d","x":0.013,"y":0.078},{"s":"d","x":0.032,"y":0.059},{"s":"d","x":0.052,"y":0.049},{"s":"d","x":0.082,"y":0.039},{"s":"d","x":0.111,"y":0.029},{"s":"d","x":0.151,"y":0.039},{"s":"d","x":0.19,"y":0.059},{"s":"d","x":0.229,"y":0.078},{"s":"d","x":0.249,"y":0.098},{"s":"d","x":0.387,"y":0.264},{"s":"d","x":0.426,"y":0.264},{"s":"d","x":0.446,"y":0.156},{"s":"d","x":0.475,"y":0.156},{"s":"d","x":0.539,"y":0.146},{"s":"d","x":0.569,"y":0.479},{"s":"d","x":0.623,"y":0.195},{"s":"d","x":0.712,"y":0.488},{"s":"d","x":0.741,"y":0.605},{"s":"d","x":0.8,"y":0.527},{"s":"d","x":0.879,"y":0.85},{"s":"d","x":0.889,"y":0.855},{"s":"d","x":0.923,"y":0.934},{"s":"d","x":0.904,"y":0.859},{"s":"d","x":0.003,"y":0.02},{"s":"d","x":0.023,"y":0.01},{"s":"d","x":0.062,"y":0.01},{"s":"d","x":0.101,"y":0.004},{"s":"d","x":0.298,"y":0.176},{"s":"d","x":0.367,"y":0.137},{"s":"d","x":0.328,"y":0.215},{"s":"d","x":0.18,"y":0.293},{"s":"d","x":0.082,"y":0.098},{"s":"d","x":0.151,"y":0.137}
],
"sf":[
{"s":"a","x":0.023,"y":0.375},{"s":"a","x":0.047,"y":0.328},{"s":"a","x":0.072,"y":0.361},{"s":"a","x":0.018,"y":0.225},{"s":"a","x":0.037,"y":0.244},{"s":"a","x":0.052,"y":0.215},{"s":"a","x":0.062,"y":0.27},{"s":"a","x":0.008,"y":0.18},{"s":"a","x":0.018,"y":0.156},{"s":"a","x":0.027,"y":0.166},{"s":"a","x":0.013,"y":0.117},{"s":"a","x":0.003,"y":0.098},{"s":"a","x":0.023,"y":0.078},{"s":"a","x":0.116,"y":0.322},{"s":"a","x":0.135,"y":0.512},{"s":"a","x":0.116,"y":0.283},{"s":"a","x":0.13,"y":0.273},{"s":"a","x":0.14,"y":0.258},{"s":"a","x":0.121,"y":0.234},{"s":"a","x":0.177,"y":0.375},{"s":"a","x":0.228,"y":0.355},{"s":"a","x":0.297,"y":0.58},{"s":"a","x":0.302,"y":0.531},{"s":"a","x":0.403,"y":0.596},{"s":"a","x":0.003,"y":0.059},{"s":"a","x":0.013,"y":0.049},{"s":"a","x":0.052,"y":0.107},{"s":"a","x":0.027,"y":0.127},
{"s":"b","x":0.067,"y":0.547},{"s":"b","x":0.4,"y":0.742},{"s":"b","x":0.415,"y":0.523},{"s":"b","x":0.326,"y":0.543},{"s":"b","x":0.346,"y":0.537},{"s":"b","x":0.292,"y":0.479},{"s":"b","x":0.292,"y":0.42},{"s":"b","x":0.243,"y":0.27},{"s":"b","x":0.285,"y":0.273},{"s":"b","x":0.155,"y":0.205},{"s":"b","x":0.125,"y":0.186},{"s":"b","x":0.125,"y":0.166},{"s":"b","x":0.047,"y":0.107},{"s":"b","x":0.027,"y":0.078},{"s":"b","x":0.013,"y":0.059},{"s":"b","x":0.003,"y":0.039},{"s":"b","x":0.076,"y":0.156},{"s":"b","x":0.214,"y":0.215},
{"s":"c","x":0.434,"y":0.23},{"s":"c","x":0.503,"y":0.068},{"s":"c","x":0.724,"y":0.221},{"s":"c","x":0.326,"y":0.332},{"s":"c","x":0.346,"y":0.137},{"s":"c","x":0.258,"y":0.02},{"s":"c","x":0.219,"y":0.156},{"s":"c","x":0.179,"y":0.137},{"s":"c","x":0.15,"y":0.098},{"s":"c","x":0.106,"y":0.068},{"s":"c","x":0.081,"y":0.127},{"s":"c","x":0.062,"y":0.098},{"s":"c","x":0.042,"y":0.049},{"s":"c","x":0.547,"y":0.43},{"s":"c","x":0.518,"y":0.238},
{"s":"c","x":0.003,"y":0},{"s":"c","x":0.013,"y":0},{"s":"c","x":0.023,"y":0},{"s":"c","x":0.037,"y":0},{"s":"c","x":0.052,"y":0},{"s":"c","x":0.067,"y":0},{"s":"c","x":0.081,"y":0},{"s":"c","x":0.101,"y":0},{"s":"c","x":0.121,"y":0},{"s":"c","x":0.14,"y":0},{"s":"c","x":0.16,"y":0},{"s":"c","x":0.179,"y":0},{"s":"c","x":0.199,"y":0},{"s":"c","x":0.219,"y":0},{"s":"c","x":0.238,"y":0},{"s":"c","x":0.248,"y":0},{"s":"c","x":0.263,"y":0},{"s":"c","x":0.277,"y":0},{"s":"c","x":0.292,"y":0},{"s":"c","x":0.307,"y":0},{"s":"c","x":0.322,"y":0},{"s":"c","x":0.366,"y":0},{"s":"c","x":0.376,"y":0},{"s":"c","x":0.405,"y":0},{"s":"c","x":0.42,"y":0},{"s":"c","x":0.464,"y":0},{"s":"c","x":0.488,"y":0},{"s":"c","x":0.528,"y":0},{"s":"c","x":0.537,"y":0},{"s":"c","x":0.572,"y":0},{"s":"c","x":0.586,"y":0},{"s":"c","x":0.699,"y":0},{"s":"c","x":0.738,"y":0},{"s":"c","x":0.851,"y":0},
{"s":"d","x":0.537,"y":0.717},{"s":"d","x":0.557,"y":0.615},{"s":"d","x":0.572,"y":0.518},{"s":"d","x":0.532,"y":0.469},{"s":"d","x":0.542,"y":0.391},{"s":"d","x":0.518,"y":0.332},{"s":"d","x":0.513,"y":0.283},{"s":"d","x":0.527,"y":0.277},{"s":"d","x":0.572,"y":0.273},{"s":"d","x":0.581,"y":0.27},{"s":"d","x":0.508,"y":0.234},{"s":"d","x":0.488,"y":0.156},{"s":"d","x":0.415,"y":0.172},{"s":"d","x":0.375,"y":0.361},{"s":"d","x":0.326,"y":0.342},{"s":"d","x":0.287,"y":0.303},{"s":"d","x":0.258,"y":0.254},{"s":"d","x":0.238,"y":0.195},{"s":"d","x":0.209,"y":0.234},{"s":"d","x":0.189,"y":0.176},{"s":"d","x":0.17,"y":0.156},{"s":"d","x":0.15,"y":0.137},{"s":"d","x":0.13,"y":0.117},{"s":"d","x":0.111,"y":0.098},{"s":"d","x":0.091,"y":0.088},{"s":"d","x":0.072,"y":0.078},{"s":"d","x":0.052,"y":0.059},{"s":"d","x":0.032,"y":0.039},{"s":"d","x":0.018,"y":0.02},{"s":"d","x":0.189,"y":0.098},{"s":"d","x":0.219,"y":0.078},{"s":"d","x":0.248,"y":0.117},{"s":"d","x":0.277,"y":0.137},{"s":"d","x":0.307,"y":0.156},{"s":"d","x":0.341,"y":0.137},{"s":"d","x":0.366,"y":0.098},{"s":"d","x":0.395,"y":0.059},{"s":"d","x":0.425,"y":0.059},{"s":"d","x":0.444,"y":0.02},{"s":"d","x":0.307,"y":0.039},{"s":"d","x":0.199,"y":0.039},{"s":"d","x":0.15,"y":0.02},{"s":"d","x":0.101,"y":0.02},{"s":"d","x":0.851,"y":0.859},{"s":"d","x":0.871,"y":0.82},{"s":"d","x":0.758,"y":0.586},{"s":"d","x":0.699,"y":0.566},{"s":"d","x":0.581,"y":0.43},{"s":"d","x":0.503,"y":0.449},{"s":"d","x":0.464,"y":0.371},{"s":"d","x":0.415,"y":0.254},{"s":"d","x":0.385,"y":0.195},{"s":"d","x":0.346,"y":0.215},{"s":"d","x":0.277,"y":0.195}
],
"sp":[
{"s":"a","x":0.023,"y":0.355},{"s":"a","x":0.057,"y":0.361},{"s":"a","x":0.082,"y":0.316},{"s":"a","x":0.077,"y":0.283},{"s":"a","x":0.047,"y":0.244},{"s":"a","x":0.042,"y":0.225},{"s":"a","x":0.037,"y":0.205},{"s":"a","x":0.136,"y":0.488},{"s":"a","x":0.131,"y":0.328},{"s":"a","x":0.146,"y":0.328},{"s":"a","x":0.151,"y":0.328},{"s":"a","x":0.19,"y":0.336},{"s":"a","x":0.229,"y":0.328},{"s":"a","x":0.21,"y":0.254},{"s":"a","x":0.131,"y":0.205},{"s":"a","x":0.126,"y":0.186},{"s":"a","x":0.111,"y":0.215},{"s":"a","x":0.008,"y":0.156},{"s":"a","x":0.018,"y":0.156},{"s":"a","x":0.028,"y":0.152},{"s":"a","x":0.003,"y":0.121},{"s":"a","x":0.013,"y":0.137},{"s":"a","x":0.023,"y":0.107},{"s":"a","x":0.032,"y":0.088},{"s":"a","x":0.008,"y":0.098},{"s":"a","x":0.318,"y":0.586},{"s":"a","x":0.32,"y":0.57},{"s":"a","x":0.424,"y":0.6},{"s":"a","x":0.131,"y":0.137},{"s":"a","x":0.136,"y":0.088},{"s":"a","x":0.121,"y":0.055},{"s":"a","x":0.106,"y":0.059},{"s":"a","x":0.239,"y":0.098},
{"s":"b","x":0.077,"y":0.523},{"s":"b","x":0.418,"y":0.752},{"s":"b","x":0.446,"y":0.527},{"s":"b","x":0.308,"y":0.543},{"s":"b","x":0.352,"y":0.557},{"s":"b","x":0.379,"y":0.576},{"s":"b","x":0.338,"y":0.473},{"s":"b","x":0.308,"y":0.395},{"s":"b","x":0.254,"y":0.219},{"s":"b","x":0.254,"y":0.195},{"s":"b","x":0.151,"y":0.244},{"s":"b","x":0.126,"y":0.191},{"s":"b","x":0.057,"y":0.16},{"s":"b","x":0.047,"y":0.137},{"s":"b","x":0.013,"y":0.059},{"s":"b","x":0.003,"y":0.039},{"s":"b","x":0.023,"y":0.078},{"s":"b","x":0.082,"y":0.098},{"s":"b","x":0.219,"y":0.156},{"s":"b","x":0.185,"y":0.156},
{"s":"c","x":0.219,"y":0.219},{"s":"c","x":0.195,"y":0.117},{"s":"c","x":0.19,"y":0.098},{"s":"c","x":0.298,"y":0.215},{"s":"c","x":0.357,"y":0.225},{"s":"c","x":0.461,"y":0.156},{"s":"c","x":0.485,"y":0.039},{"s":"c","x":0.52,"y":0.059},{"s":"c","x":0.569,"y":0.043},{"s":"c","x":0.584,"y":0.186},{"s":"c","x":0.554,"y":0.313},{"s":"c","x":0.697,"y":0.063},{"s":"c","x":0.249,"y":0.059},{"s":"c","x":0.18,"y":0.059},{"s":"c","x":0.111,"y":0.049},{"s":"c","x":0.077,"y":0.039},{"s":"c","x":0.052,"y":0.059},{"s":"c","x":0.165,"y":0.176},{"s":"c","x":0.151,"y":0.098},
{"s":"c","x":0.003,"y":0},{"s":"c","x":0.018,"y":0},{"s":"c","x":0.032,"y":0},{"s":"c","x":0.052,"y":0},{"s":"c","x":0.072,"y":0},{"s":"c","x":0.092,"y":0},{"s":"c","x":0.111,"y":0},{"s":"c","x":0.131,"y":0},{"s":"c","x":0.156,"y":0},{"s":"c","x":0.19,"y":0},{"s":"c","x":0.215,"y":0},{"s":"c","x":0.249,"y":0},{"s":"c","x":0.279,"y":0},{"s":"c","x":0.318,"y":0},{"s":"c","x":0.333,"y":0},{"s":"c","x":0.343,"y":0},{"s":"c","x":0.352,"y":0},{"s":"c","x":0.357,"y":0},{"s":"c","x":0.387,"y":0},{"s":"c","x":0.411,"y":0},{"s":"c","x":0.426,"y":0},{"s":"c","x":0.436,"y":0},{"s":"c","x":0.461,"y":0},{"s":"c","x":0.485,"y":0},{"s":"c","x":0.525,"y":0},{"s":"c","x":0.574,"y":0},{"s":"c","x":0.584,"y":0},{"s":"c","x":0.594,"y":0},{"s":"c","x":0.603,"y":0},{"s":"c","x":0.682,"y":0},{"s":"c","x":0.771,"y":0},
{"s":"d","x":0.854,"y":0.85},{"s":"d","x":0.682,"y":0.498},{"s":"d","x":0.633,"y":0.348},{"s":"d","x":0.579,"y":0.332},{"s":"d","x":0.549,"y":0.303},{"s":"d","x":0.357,"y":0.303},{"s":"d","x":0.318,"y":0.215},{"s":"d","x":0.421,"y":0.098},{"s":"d","x":0.461,"y":0.176},{"s":"d","x":0.525,"y":0.156},{"s":"d","x":0.52,"y":0.098},{"s":"d","x":0.574,"y":0.186},{"s":"d","x":0.608,"y":0.176},{"s":"d","x":0.633,"y":0.141},{"s":"d","x":0.682,"y":0.215},{"s":"d","x":0.741,"y":0.02},{"s":"d","x":0.623,"y":0.098},{"s":"d","x":0.628,"y":0.068},{"s":"d","x":0.569,"y":0.098},{"s":"d","x":0.298,"y":0.254},{"s":"d","x":0.279,"y":0.176},{"s":"d","x":0.249,"y":0.156},{"s":"d","x":0.21,"y":0.137},{"s":"d","x":0.19,"y":0.186},{"s":"d","x":0.17,"y":0.156},{"s":"d","x":0.151,"y":0.117},{"s":"d","x":0.131,"y":0.117},{"s":"d","x":0.111,"y":0.098},{"s":"d","x":0.092,"y":0.088},{"s":"d","x":0.072,"y":0.068},{"s":"d","x":0.052,"y":0.049},{"s":"d","x":0.032,"y":0.029},{"s":"d","x":0.013,"y":0.02},{"s":"d","x":0.195,"y":0.078},{"s":"d","x":0.229,"y":0.059},{"s":"d","x":0.269,"y":0.059},{"s":"d","x":0.308,"y":0.049},{"s":"d","x":0.347,"y":0.049},{"s":"d","x":0.377,"y":0.039},{"s":"d","x":0.416,"y":0.02},{"s":"d","x":0.446,"y":0.039},{"s":"d","x":0.17,"y":0.02},{"s":"d","x":0.111,"y":0.004},{"s":"d","x":0.052,"y":0.004},{"s":"d","x":0.426,"y":0.01},{"s":"d","x":0.466,"y":0.004},{"s":"d","x":0.2,"y":0.02},{"s":"d","x":0.082,"y":0.059},{"s":"d","x":0.111,"y":0.137},{"s":"d","x":0.151,"y":0.166},{"s":"d","x":0.18,"y":0.215}
]
}
}
